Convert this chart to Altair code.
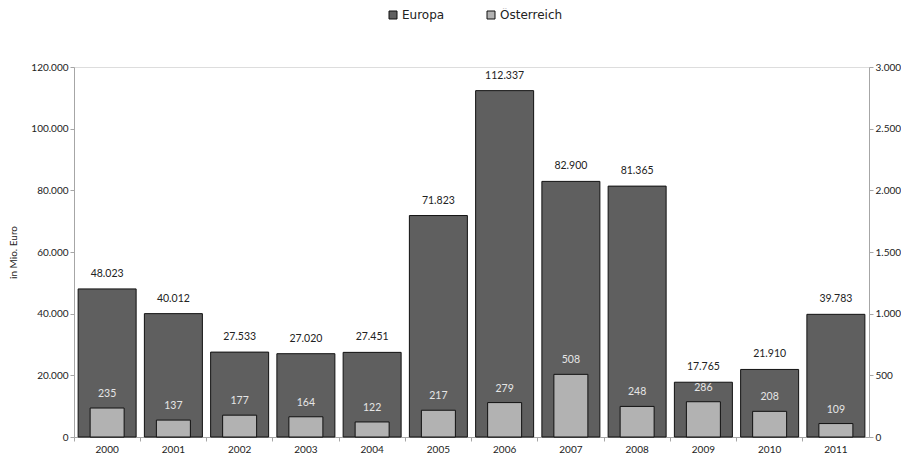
import altair as alt
import pandas as pd

years = ["2000", "2001", "2002", "2003", "2004", "2005", "2006", "2007", "2008", "2009", "2010", "2011"]
europa = [48023, 40012, 27533, 27020, 27451, 71823, 112337, 82900, 81365, 17765, 21910, 39783]
oesterreich = [235, 137, 177, 164, 122, 217, 279, 508, 248, 286, 208, 109]
series_names = ["Europa", "Österreich"]

df = pd.DataFrame({"year": years, "eu": europa, "at": oesterreich})

FONT = "Lato"
de_label = "replace(format(datum.value, ','), regexp(',', 'g'), '.')"

x_enc = alt.X(
    "year:N",
    title=None,
    scale=alt.Scale(paddingInner=0, paddingOuter=0),
    axis=alt.Axis(
        labelAngle=0, bandPosition=0, domainColor="#a6a6a6", tickColor="#a6a6a6",
        tickSize=4, labelColor="#222222", labelFontSize=10, labelPadding=3,
        labelFont=FONT,
    ),
)

color_scale = alt.Scale(domain=series_names, range=["#5f5f5f", "#b2b2b2"])

base = alt.Chart(df)

eu_bar = base.transform_calculate(series="'Europa'").mark_bar(
    size=58, stroke="#111111", strokeWidth=1, opacity=1
).encode(
    x=x_enc,
    y=alt.Y(
        "eu:Q",
        title="in Mio. Euro",
        scale=alt.Scale(domain=[0, 120000], nice=False),
        axis=alt.Axis(
            orient="left", values=[0, 20000, 40000, 60000, 80000, 100000, 120000],
            labelExpr=de_label, grid=False, domainColor="#a6a6a6", tickColor="#a6a6a6",
            tickSize=4, labelColor="#222222", labelFontSize=10, labelFont=FONT,
            titleFont=FONT, titleFontSize=10, titleFontWeight="normal",
            titleColor="#222222", titlePadding=12,
        ),
    ),
    color=alt.Color(
        "series:N", scale=color_scale,
        legend=alt.Legend(
            orient="none", legendX=313, legendY=-58, direction="horizontal",
            title=None, symbolType="square", symbolStrokeColor="#111111",
            symbolStrokeWidth=1, symbolSize=64, symbolOffset=0, labelOffset=3,
            labelFont="DejaVu Sans", labelFontSize=12,
            labelColor="#222222", columnPadding=40, symbolOpacity=1,
        ),
    ),
)

eu_text = base.transform_calculate(
    lab="replace(format(datum.eu, ','), regexp(',', 'g'), '.')"
).mark_text(dy=-15, fontSize=10.5, font=FONT, color="#222222").encode(
    x=alt.X("year:N"),
    y=alt.Y("eu:Q"),
    text="lab:N",
)

at_bar = base.transform_calculate(series="'Österreich'").mark_bar(
    size=34, stroke="#111111", strokeWidth=1, opacity=1
).encode(
    x=alt.X("year:N"),
    y=alt.Y(
        "at:Q",
        title=None,
        scale=alt.Scale(domain=[0, 3000], nice=False),
        axis=alt.Axis(
            orient="right", values=[0, 500, 1000, 1500, 2000, 2500, 3000],
            labelExpr=de_label, grid=False, domainColor="#a6a6a6", tickColor="#a6a6a6",
            tickSize=4, labelColor="#222222", labelFontSize=10, labelFont=FONT,
        ),
    ),
    color=alt.Color("series:N", scale=color_scale),
)

at_text = base.mark_text(dy=-14, fontSize=10.5, font=FONT, color="#e6e6e6").encode(
    x=alt.X("year:N"),
    y=alt.Y("at:Q"),
    text="at:Q",
)

left = alt.layer(eu_bar, eu_text)
right = alt.layer(at_bar, at_text)

chart = alt.layer(left, right).resolve_scale(y="independent").properties(
    width=795, height=370,
    padding={"top": 1, "left": 0, "right": 0, "bottom": 0},
).configure_view(stroke=None).configure(background="white")

chart.save("out.html", embed_options={"renderer": "svg", "actions": False})
